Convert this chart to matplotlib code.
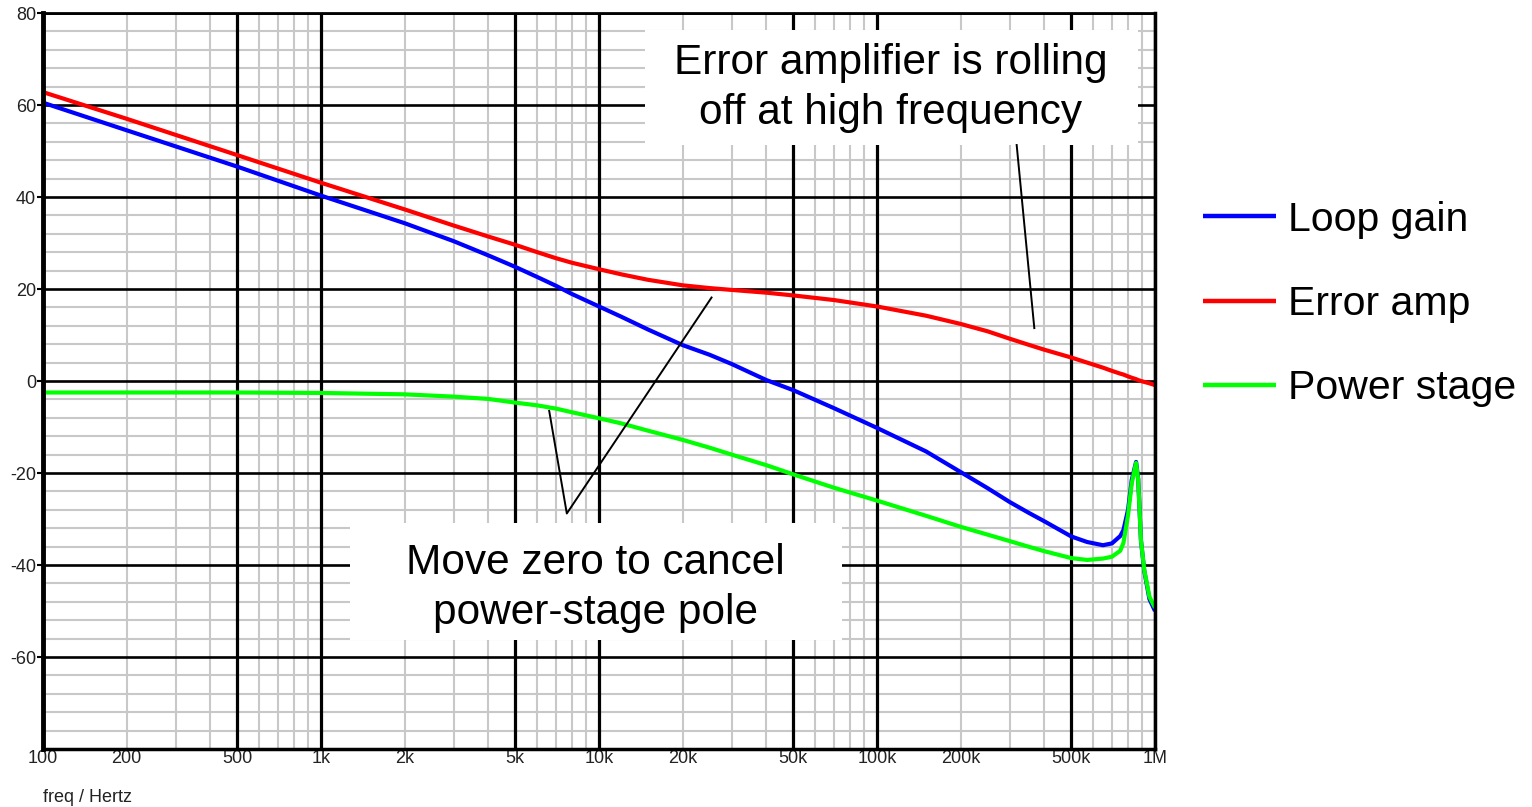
import numpy as np
import matplotlib
matplotlib.use("Agg")
import matplotlib.pyplot as plt
from matplotlib.patches import Rectangle

plt.rcParams['font.family'] = ['Liberation Sans', 'DejaVu Sans']

# Frequency points (Hz) and magnitudes (dB)
freq = [100, 200, 500, 1e3, 2e3, 3e3, 4e3, 5e3, 6e3, 7e3, 8e3, 1e4, 1.2e4, 1.5e4,
        2e4, 2.5e4, 3e4, 4e4, 5e4, 7e4, 1e5, 1.5e5, 2e5, 2.5e5, 3e5, 3.5e5, 4e5,
        5e5, 5.7e5, 6.5e5, 7e5, 7.5e5, 7.7e5, 8e5, 8.25e5, 8.55e5, 8.7e5, 8.9e5,
        9.15e5, 9.55e5, 1e6]

loop_gain = [60.5, 54.5, 46.6, 40.3, 34.3, 30.4, 27.3, 24.8, 22.6, 20.7, 18.9, 16.2,
             14.0, 11.2, 7.8, 5.7, 3.7, 0.2, -2.0, -5.9, -10.2, -15.3, -19.8, -23.3,
             -26.3, -28.6, -30.5, -33.8, -35.0, -35.7, -35.3, -33.7, -32.4, -28.0,
             -21.5, -17.6, -21.3, -34.6, -41.3, -47.4, -50.0]

error_amp = [62.8, 57.0, 49.1, 43.1, 37.3, 33.8, 31.4, 29.6, 28.0, 26.7, 25.7, 24.3,
             23.2, 22.0, 20.8, 20.2, 19.8, 19.2, 18.6, 17.6, 16.2, 14.2, 12.4, 10.8,
             9.2, 7.9, 6.8, 5.1, 4.0, 2.9, 2.2, 1.6, 1.4, 1.0, 0.7, 0.4, 0.2, 0.0,
             -0.2, -0.5, -0.9]

power_stage = [-2.5, -2.5, -2.5, -2.6, -2.9, -3.4, -3.9, -4.7, -5.3, -6.0, -6.8,
               -8.1, -9.2, -10.8, -12.8, -14.5, -16.0, -18.3, -20.3, -23.2, -26.0,
               -29.3, -31.7, -33.4, -34.8, -36.0, -37.0, -38.5, -38.9, -38.6, -38.2,
               -36.9, -35.2, -29.1, -22.2, -17.8, -21.5, -34.6, -41.1, -46.9, -49.3]

series_names = ['Loop gain', 'Error amp', 'Power stage']
series_colors = ['#0000ff', '#ff0000', '#00ff00']

x_tick_values = [100, 200, 500, 1e3, 2e3, 5e3, 1e4, 2e4, 5e4, 1e5, 2e5, 5e5, 1e6]
x_tick_labels = ['100', '200', '500', '1k', '2k', '5k', '10k', '20k', '50k',
                 '100k', '200k', '500k', '1M']
y_tick_values = [-60, -40, -20, 0, 20, 40, 60, 80]

fig = plt.figure(figsize=(15.32, 8.07), dpi=100)
ax = fig.add_axes([43 / 1532, 58 / 807, 1112 / 1532, 736 / 807])
ax.set_xscale('log')
ax.set_xlim(100, 1e6)
ax.set_ylim(-80, 80)

# Grid: light gray minor lines, heavy black lines at 1-5-10 decades and every 20 dB
for dec in [100, 1e3, 1e4, 1e5]:
    for m in range(2, 10):
        if m != 5:
            ax.axvline(dec * m, color='#c8c8c8', lw=1.5, zorder=1)
for yv in range(-80, 81, 4):
    if yv % 20:
        ax.axhline(yv, color='#c8c8c8', lw=1.5, zorder=1)
for xv in [100, 500, 1e3, 5e3, 1e4, 5e4, 1e5, 5e5, 1e6]:
    ax.axvline(xv, color='black', lw=2.3, zorder=2)
for yv in range(-80, 81, 20):
    ax.axhline(yv, color='black', lw=1.9, zorder=2)

lines = []
for vals, name, col in zip([loop_gain, error_amp, power_stage], series_names, series_colors):
    ln, = ax.plot(freq, vals, color=col, lw=3.0, label=name, zorder=5,
                  solid_capstyle='butt', solid_joinstyle='round')
    lines.append(ln)
lines[0].set_zorder(4)

for side, w in [('left', 3.5), ('bottom', 2.5), ('top', 2.0), ('right', 2.5)]:
    ax.spines[side].set_linewidth(w)
    ax.spines[side].set_zorder(6)

ax.set_xticks(x_tick_values)
ax.set_xticklabels(x_tick_labels)
ax.xaxis.set_minor_locator(matplotlib.ticker.NullLocator())
ax.set_yticks(y_tick_values)
ax.set_yticklabels([str(v) for v in y_tick_values])
ax.tick_params(axis='x', length=0, pad=1, labelsize=13, labelcolor='#222222')
ax.tick_params(axis='y', length=4, width=1.5, pad=1, labelsize=13, labelcolor='#222222',
               direction='out')

fig.text(43 / 1532, 1 - 797 / 807, 'freq / Hertz', fontsize=13, color='#222222',
         ha='left', va='center')

# White panels behind the call-out texts
ax.add_patch(Rectangle((0.5414, 0.8207), 0.4433, 0.1562, transform=ax.transAxes,
                       facecolor='white', edgecolor='none', zorder=3))
ax.add_patch(Rectangle((0.2761, 0.1481), 0.4424, 0.1590, transform=ax.transAxes,
                       facecolor='white', edgecolor='none', zorder=3))
ax.text(0.7626, 0.8981, 'Error amplifier is rolling\noff at high frequency',
        transform=ax.transAxes, fontsize=30.5, ha='center', va='center',
        linespacing=1.33, zorder=3.5)
ax.text(0.4969, 0.2187, 'Move zero to cancel\npower-stage pole',
        transform=ax.transAxes, fontsize=30.5, ha='center', va='center',
        linespacing=1.33, zorder=3.5)

# Pointer lines
ax.plot([318e3, 368e3], [51.3, 11.5], color='black', lw=1.4, zorder=7)
ax.plot([6.62e3, 7.66e3, 25.4e3], [-6.5, -28.8, 18.15], color='black', lw=1.4, zorder=7)

leg = fig.legend(handles=lines, labels=series_names, loc='center left',
                 bbox_to_anchor=(1203 / 1532, 1 - 304 / 807), frameon=False,
                 fontsize=29.5, handlelength=1.78, handletextpad=0.29,
                 labelspacing=1.13, borderpad=0, borderaxespad=0)
for h in leg.legend_handles:
    h.set_linewidth(3.2)

fig.savefig('out.png', dpi=100, facecolor='white')
